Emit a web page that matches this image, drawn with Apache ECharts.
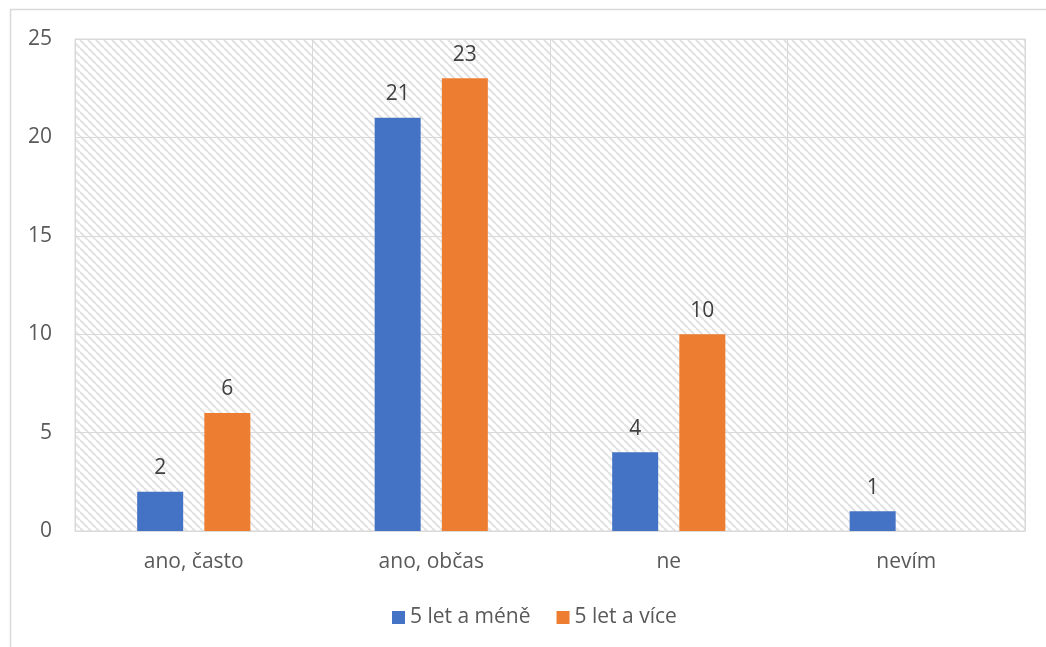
<!DOCTYPE html>
<html>
<head>
<meta charset="utf-8">
<script src="https://cdn.jsdelivr.net/npm/echarts@6/dist/echarts.min.js"></script>
<style>
  html, body { margin: 0; padding: 0; background: #fff; }
  #chart { width: 1046px; height: 647px; }
</style>
</head>
<body>
<div id="chart"></div>
<script>
// Survey answers by length of experience
const categories = ['ano, často', 'ano, občas', 'ne', 'nevím'];
const seriesNames = ['5 let a méně', '5 let a více'];
const lessThan5 = [2, 21, 4, 1];
const moreThan5 = [6, 23, 10, null];
const yTicks = { min: 0, max: 25, interval: 5 };

const FONT = 'Open Sans';
const FS = 21;
const GRID = '#d9d9d9';

// diagonal hatch tile for the plot background
function hatchTile() {
  const c = document.createElement('canvas');
  c.width = 8; c.height = 8;
  const g = c.getContext('2d');
  g.fillStyle = '#ffffff';
  g.fillRect(0, 0, 8, 8);
  g.strokeStyle = '#e3e3e3';
  g.lineWidth = 2.2;
  for (const x0 of [-8, 0, 8]) {
    g.beginPath();
    g.moveTo(x0, 0);
    g.lineTo(x0 + 8, 8);
    g.stroke();
  }
  return c;
}

const chart = echarts.init(document.getElementById('chart'), null, { renderer: 'canvas' });

const labelStyle = {
  show: true,
  position: 'top',
  distance: 13,
  color: '#404040',
  fontFamily: FONT,
  fontSize: FS
};

chart.setOption({
  animation: false,
  backgroundColor: '#ffffff',
  graphic: [{
    type: 'rect',
    silent: true,
    shape: { x: 10.5, y: 9.5, width: 1100, height: 700 },
    style: { fill: 'none', stroke: GRID, lineWidth: 1.5 }
  }],
  grid: {
    left: 75, right: 21, top: 39, bottom: 116,
    show: true,
    backgroundColor: { image: hatchTile(), repeat: 'repeat' },
    borderColor: GRID,
    borderWidth: 1
  },
  legend: {
    left: 387, top: 602,
    itemWidth: 13, itemHeight: 13, itemGap: 26,
    icon: 'rect',
    textStyle: { color: '#595959', fontFamily: FONT, fontSize: FS },
    data: seriesNames
  },
  xAxis: {
    type: 'category',
    data: categories,
    axisLine: { lineStyle: { color: GRID, width: 1 } },
    axisTick: { show: false },
    splitLine: { show: true, interval: 0, lineStyle: { color: GRID, width: 1 } },
    axisLabel: { color: '#595959', fontFamily: FONT, fontSize: FS, margin: 21 }
  },
  yAxis: {
    type: 'value',
    min: yTicks.min, max: yTicks.max, interval: yTicks.interval,
    axisLine: { show: false },
    axisTick: { show: false },
    splitLine: { lineStyle: { color: GRID, width: 1 } },
    axisLabel: { color: '#595959', fontFamily: FONT, fontSize: FS, margin: 23 }
  },
  series: [
    {
      name: seriesNames[0], type: 'bar', data: lessThan5,
      itemStyle: { color: '#4472C4' },
      barWidth: 46, barGap: '46%',
      label: labelStyle
    },
    {
      name: seriesNames[1], type: 'bar', data: moreThan5,
      itemStyle: { color: '#ED7D31' },
      barWidth: 46, barGap: '46%',
      label: labelStyle
    }
  ]
});
</script>
</body>
</html>
